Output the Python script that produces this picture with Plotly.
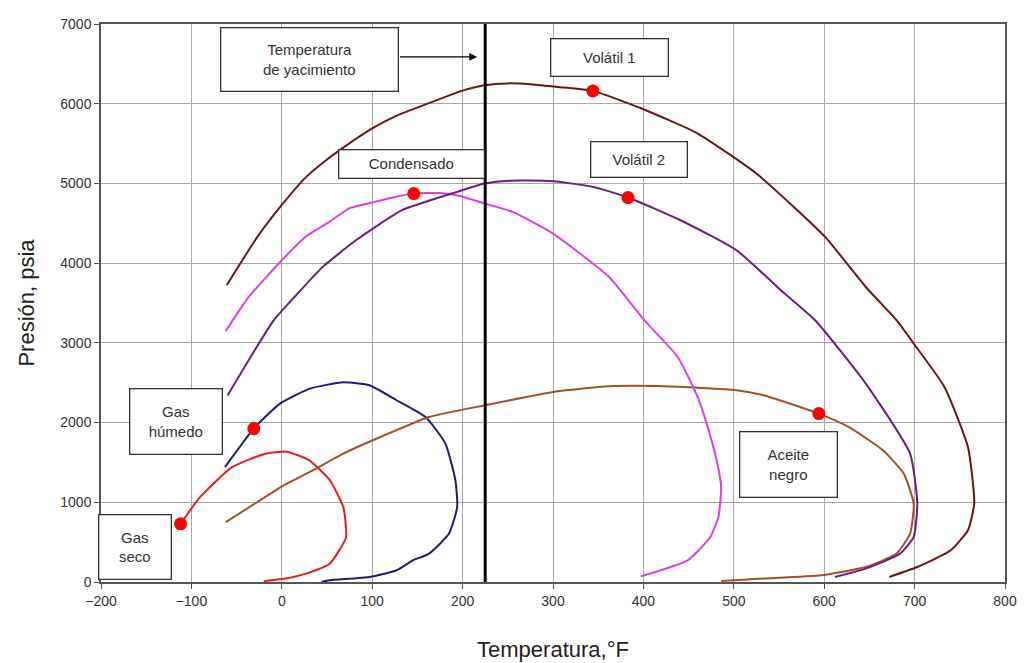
import plotly.graph_objects as go

# ---- data ----
gas_seco_x = [-112, -90, -55, -18, 5, 30, 53, 68, 71, 53, 27, 2, -20]
gas_seco_y = [730, 1070, 1440, 1610, 1635, 1530, 1280, 940, 560, 230, 105, 40, 10]

gas_humedo_x = [-63, -31, -2, 31, 68, 97, 127, 159, 181, 192, 194, 185, 163, 145, 127, 97, 53, 44]
gas_humedo_y = [1440, 1925, 2238, 2426, 2505, 2468, 2280, 2070, 1736, 1276, 941, 607, 356, 272, 147, 63, 21, 0]

aceite_x = [-62, -27, 2, 31, 68, 109, 163, 225, 300, 362, 423, 503, 533, 594, 627, 665, 688, 699, 695, 680, 646, 597, 533, 486]
aceite_y = [750, 1004, 1213, 1380, 1611, 1819, 2070, 2217, 2384, 2455, 2455, 2405, 2343, 2113, 1945, 1652, 1360, 984, 607, 356, 188, 84, 43, 13]

condensado_x = [-62, -38, 0, 27, 53, 75, 100, 125, 146, 175, 198, 224, 256, 300, 362, 401, 438, 460, 470, 481, 486, 483, 474, 449, 397]
condensado_y = [3150, 3556, 4036, 4337, 4520, 4690, 4760, 4830, 4873, 4880, 4840, 4750, 4640, 4371, 3827, 3284, 2823, 2321, 1987, 1527, 1192, 816, 565, 272, 71]

volatil2_x = [-60, -9, 16, 45, 82, 133, 188, 224, 253, 297, 345, 383, 441, 503, 552, 590, 646, 695, 703, 699, 684, 646, 612]
volatil2_y = [2340, 3283, 3600, 3950, 4287, 4664, 4873, 4999, 5035, 5030, 4956, 4823, 4538, 4162, 3661, 3284, 2489, 1611, 984, 565, 356, 168, 63]

volatil1_x = [-61, -27, 0, 27, 49, 64, 100, 126, 152, 199, 224, 250, 275, 305, 344, 398, 460, 525, 601, 646, 680, 699, 733, 759, 766, 759, 740, 703, 672]
volatil1_y = [3723, 4329, 4730, 5082, 5291, 5417, 5690, 5845, 5960, 6161, 6232, 6255, 6245, 6210, 6161, 5940, 5626, 5124, 4329, 3701, 3284, 2991, 2447, 1694, 984, 649, 398, 188, 63]

dots_x = [-112, -31, 146, 344, 383, 594]
dots_y = [730, 1925, 4873, 6161, 4823, 2113]

reservoir_T = 225
x_ticks = list(range(-200, 801, 100))
y_ticks = list(range(0, 7001, 1000))

labels = ["Temperatura<br>de yacimiento", "Volátil 1", "Condensado", "Volátil 2",
          "Gas<br>húmedo", "Gas<br>seco", "Aceite<br>negro"]
label_x = [31, 362, 143, 395, -117, -162, 560]
label_y = [6558, 6583, 5241, 5304, 2012, 438, 1479]
label_w = [176, 116, 144, 95, 91, 71, 96]
label_h = [62, 36, 27, 34, 64, 63, 64]

# ---- figure ----
fig = go.Figure()

curves = [
    (gas_seco_x, gas_seco_y, "#e02020"),
    (gas_humedo_x, gas_humedo_y, "#1c1c78"),
    (aceite_x, aceite_y, "#a3502a"),
    (condensado_x, condensado_y, "#dd40dd"),
    (volatil2_x, volatil2_y, "#6a1f7e"),
    (volatil1_x, volatil1_y, "#6b1616"),
]
for cx, cy, col in curves:
    fig.add_trace(go.Scatter(x=cx, y=cy, mode="lines",
                             line=dict(color=col, width=2, shape="spline", smoothing=0.5),
                             showlegend=False, hoverinfo="skip"))

fig.add_trace(go.Scatter(x=[reservoir_T, reservoir_T], y=[0, 7000], mode="lines",
                         line=dict(color="black", width=3), showlegend=False))

fig.add_trace(go.Scatter(x=dots_x, y=dots_y, mode="markers",
                         marker=dict(color="#ff0000", size=13), showlegend=False))

for t, lx, ly, w, h in zip(labels, label_x, label_y, label_w, label_h):
    fig.add_annotation(x=lx, y=ly, xref="x", yref="y", text=t, showarrow=False,
                       font=dict(family="Liberation Sans, Arial", size=15, color="#333"),
                       bgcolor="white", bordercolor="#333", borderwidth=1.3,
                       borderpad=0, width=w, height=h, align="center", valign="middle")

# arrow from box to reservoir line
fig.add_annotation(x=216, y=6587, ax=129, ay=6587, xref="x", yref="y", axref="x", ayref="y",
                   text="", showarrow=True, arrowhead=2, arrowsize=1.2, arrowwidth=1.3,
                   arrowcolor="black")

axis_common = dict(showgrid=True, gridcolor="#a8a8a8", gridwidth=1,
                   showline=True, linecolor="#555", linewidth=1.5, mirror=True,
                   ticks="outside", ticklen=5, tickcolor="#555",
                   tickfont=dict(family="Liberation Sans, Arial", size=14, color="#333"),
                   zeroline=False, automargin=False)

fig.update_xaxes(range=[-200, 800], tickvals=x_ticks,
                 title=dict(text="Temperatura,°F", font=dict(family="Liberation Sans, Arial", size=22, color="#222"),
                            standoff=34),
                 **axis_common)
fig.update_yaxes(range=[0, 7000], tickvals=y_ticks,
                 title=dict(text="Presión, psia", font=dict(family="Liberation Sans, Arial", size=22, color="#222"),
                            standoff=20),
                 **axis_common)

fig.update_layout(width=1034, height=663, margin=dict(l=101, r=29, t=24, b=81),
                  plot_bgcolor="white", paper_bgcolor="white")

fig.write_html("out.html")
